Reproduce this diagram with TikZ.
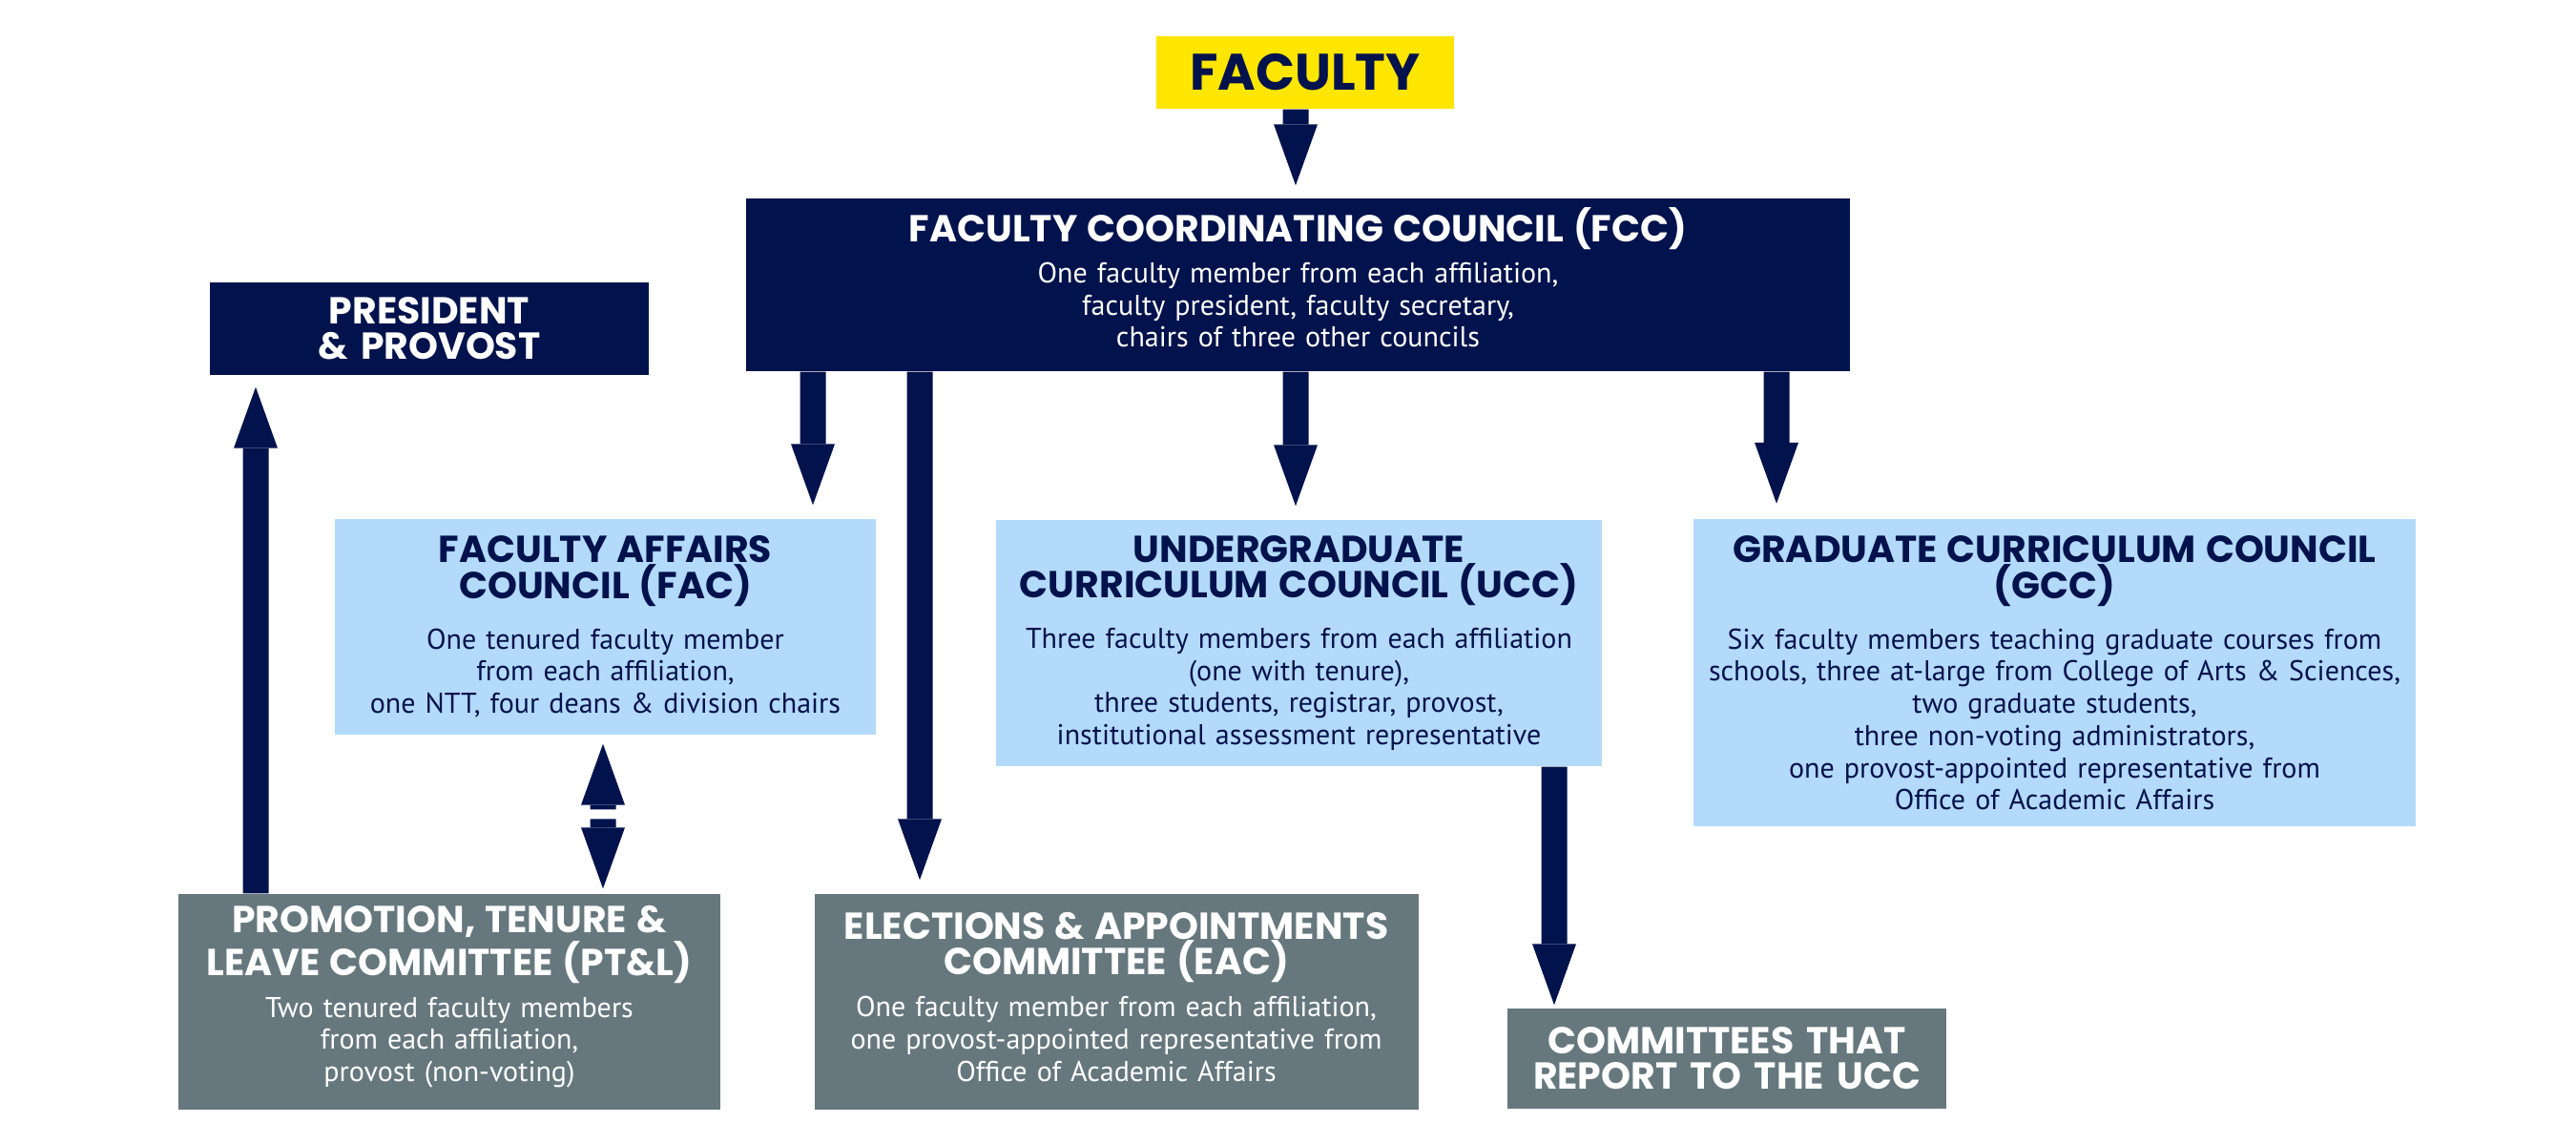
\documentclass[tikz,border=0pt]{standalone}
\usepackage{fontspec}
\setmainfont{PT Sans}
\newfontfamily\poppins{Poppins}
\usepackage{tikz}
\usetikzlibrary{positioning, arrows.meta}

\definecolor{fccnavy}{HTML}{01124C}
\definecolor{fccyellow}{HTML}{FFE600}
\definecolor{fccblue}{HTML}{B4DAFB}
\definecolor{fccgrey}{HTML}{66787D}

\newcommand{\headfont}{\poppins\bfseries\fontsize{11.2}{10.6}\selectfont}

\begin{document}
\begin{tikzpicture}[
    box/.style={rectangle, inner sep=0pt, align=center, font=\fontsize{8.55}{9.6}\selectfont},
    navybox/.style={box, fill=fccnavy, text=white},
    bluebox/.style={box, fill=fccblue, text=fccnavy},
    greybox/.style={box, fill=fccgrey, text=white},
    arrow/.style={-{Triangle[width=4.6mm, length=6.4mm, line width=0pt]}, line width=2.7mm, draw=fccnavy}
]
\useasboundingbox (0,0) rectangle (27,11.99);

\node[box, fill=fccyellow, text=fccnavy, text width=3.12cm, minimum height=0.76cm, font=\poppins\bfseries\fontsize{15.3}{15}\selectfont] (faculty) at (13.68,11.23) {FACULTY};

\node[navybox, text width=11.57cm, minimum height=1.81cm] (fcc) at (13.605,9.005) {{\headfont FACULTY COORDINATING COUNCIL (FCC)\par}\vspace{2.6pt}One faculty member from each affiliation,\\faculty president, faculty secretary,\\chairs of three other councils\par\vspace{1.5mm}};
\node[navybox, text width=4.60cm, minimum height=0.97cm, font=\headfont] (pres) at (4.50,8.545) {PRESIDENT\\\& PROVOST};

\node[bluebox, text width=5.67cm, minimum height=2.26cm] (fac) at (6.345,5.42) {{\headfont FACULTY AFFAIRS\\COUNCIL (FAC)\par}\vspace{5.5pt}One tenured faculty member\\from each affiliation,\\one NTT, four deans \& division chairs};
\node[bluebox, text width=6.35cm, minimum height=2.58cm] (ucc) at (13.615,5.25) {{\headfont UNDERGRADUATE\\CURRICULUM COUNCIL (UCC)\par}\vspace{5.5pt}Three faculty members from each affiliation\\(one with tenure),\\three students, registrar, provost,\\institutional assessment representative};
\node[bluebox, text width=7.57cm, minimum height=3.22cm] (gcc) at (21.535,4.935) {{\headfont GRADUATE CURRICULUM COUNCIL\\(GCC)\par}\vspace{5.5pt}Six faculty members teaching graduate courses from\\schools, three at-large from College of Arts \& Sciences,\\two graduate students,\\three non-voting administrators,\\one provost-appointed representative from\\Office of Academic Affairs};

\node[greybox, text width=5.68cm, minimum height=2.26cm] (ptl) at (4.71,1.49) {{\headfont PROMOTION, TENURE \&\\LEAVE COMMITTEE (PT\&L)\par}\vspace{2.8pt}Two tenured faculty members\\from each affiliation,\\provost (non-voting)\par\vspace{1mm}};
\node[greybox, text width=6.33cm, minimum height=2.26cm] (eac) at (11.70,1.49) {{\headfont ELECTIONS \& APPOINTMENTS\\COMMITTEE (EAC)\par}\vspace{2.8pt}One faculty member from each affiliation,\\one provost-appointed representative from\\Office of Academic Affairs\par\vspace{1mm}};
\node[greybox, text width=4.60cm, minimum height=1.05cm, font=\headfont] (ucccom) at (18.10,0.895) {COMMITTEES THAT\\REPORT TO THE UCC};

\coordinate (facptl) at (6.32,3.455);

\draw[arrow, shorten >=1.3mm] ([xshift=-1mm]faculty.south) -- ([xshift=-0.25mm]fcc.north);
\draw[arrow, shorten >=1.4mm] ([xshift=-5.085cm]fcc.south) -- ([xshift=2.175cm]fac.north);
\draw[arrow, shorten >=1.4mm] ([xshift=-3.965cm]fcc.south) -- ([xshift=-2.06cm]eac.north);
\draw[arrow, shorten >=1.4mm] ([xshift=-0.25mm]fcc.south) -- ([xshift=-0.35mm]ucc.north);
\draw[arrow, shorten >=1.6mm] ([xshift=5.015cm]fcc.south) -- ([xshift=-2.915cm]gcc.north);
\draw[arrow, shorten >=1.2mm] ([xshift=-2.03cm]ptl.north) -- ([xshift=-1.82cm]pres.south);
\draw[arrow, shorten >=0.9mm] ([yshift=0.5mm]facptl) -- ([xshift=-0.25mm]fac.south);
\draw[arrow, shorten >=0.5mm] ([yshift=-0.5mm]facptl) -- ([xshift=1.61cm]ptl.north);
\draw[arrow, shorten >=0.3mm] ([xshift=2.675cm]ucc.south) -- ([xshift=-1.81cm]ucccom.north);

\end{tikzpicture}
\end{document}
